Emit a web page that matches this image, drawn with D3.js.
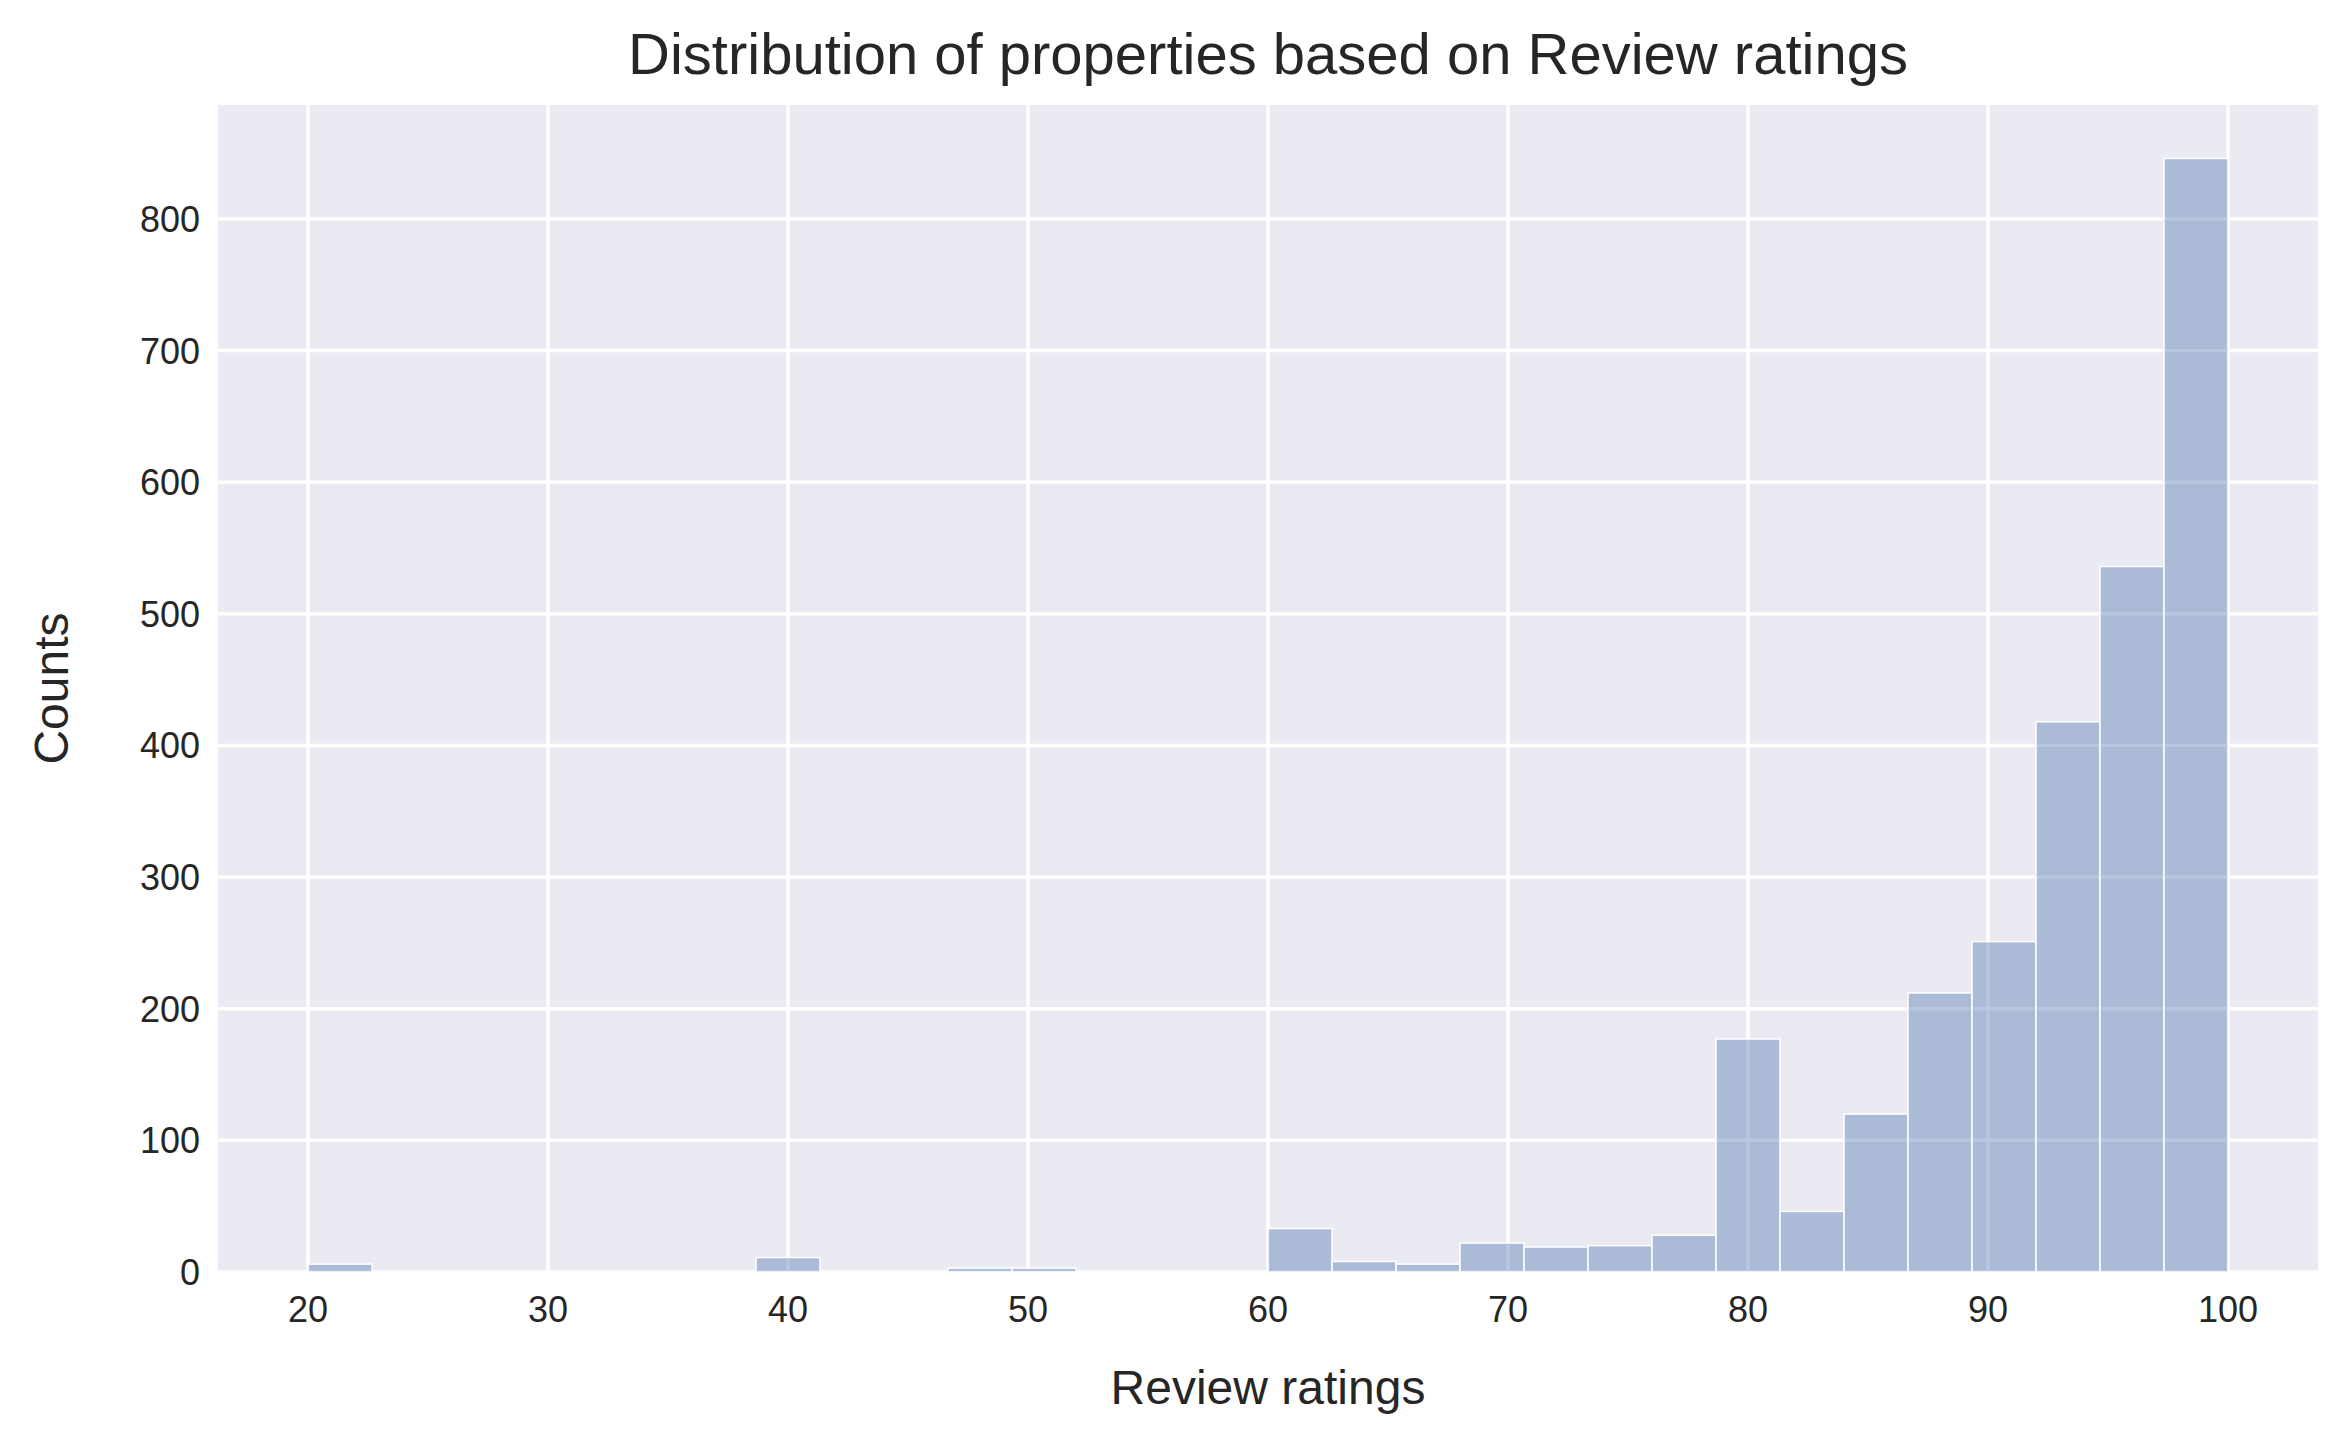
<!DOCTYPE html>
<html><head><meta charset="utf-8">
<script src="https://cdn.jsdelivr.net/npm/d3@7"></script>
<style>body{margin:0;background:#fff}</style>
</head><body>
<svg id="chart" width="2351" height="1447"></svg>
<script>
// 30 bins between 20 and 100
const binStart = 20, binEnd = 100
const counts = [6,0,0,0,0,0,0,11,0,0,3,3,0,0,0,33,8,6,22,19,20,28,177,46,120,212,251,418,536,846]
const xTicks = [20,30,40,50,60,70,80,90,100]
const yTicks = [0,100,200,300,400,500,600,700,800]

const svg = d3.select('#chart')
const font = '"Liberation Sans", Arial, sans-serif'
const m = {l:218, r:2318, t:105, b:1272}

const x = d3.scaleLinear().domain([16.25, 103.75]).range([m.l, m.r])
const y = d3.scaleLinear().domain([0, 886.6]).range([m.b, m.t])

svg.append('rect').attr('x', m.l).attr('y', m.t)
  .attr('width', m.r - m.l).attr('height', m.b - m.t).attr('fill', '#eaeaf2')

const g = svg.append('g')
g.selectAll('.vg').data(xTicks).join('line')
  .attr('x1', d => x(d)).attr('x2', d => x(d)).attr('y1', m.t).attr('y2', m.b)
  .attr('stroke', '#fff').attr('stroke-width', 3.5)
g.selectAll('.hg').data(yTicks).join('line')
  .attr('x1', m.l).attr('x2', m.r).attr('y1', d => y(d)).attr('y2', d => y(d))
  .attr('stroke', '#fff').attr('stroke-width', 3.5)

const w = (binEnd - binStart) / counts.length
svg.selectAll('.bar').data(counts).join('rect')
  .attr('x', (d, i) => x(binStart + i * w))
  .attr('width', (d, i) => x(binStart + (i + 1) * w) - x(binStart + i * w))
  .attr('y', d => y(d)).attr('height', d => y(0) - y(d))
  .attr('fill', 'rgba(76,114,176,0.4)').attr('stroke', '#fff').attr('stroke-width', 1.5)
  .attr('stroke-opacity', d => d > 0 ? 1 : 0)

svg.selectAll('.xt').data(xTicks).join('text')
  .attr('x', d => x(d)).attr('y', m.b + 50).attr('text-anchor', 'middle')
  .attr('font-family', font).attr('font-size', 36).attr('fill', '#262626').text(d => d)
svg.selectAll('.yt').data(yTicks).join('text')
  .attr('x', m.l - 18).attr('y', d => y(d) + 13).attr('text-anchor', 'end')
  .attr('font-family', font).attr('font-size', 36).attr('fill', '#262626').text(d => d)

svg.append('text').attr('x', (m.l + m.r) / 2).attr('y', 1404).attr('text-anchor', 'middle')
  .attr('font-family', font).attr('font-size', 48).attr('fill', '#262626').text('Review ratings')
svg.append('text').attr('transform', `translate(68,${(m.t + m.b) / 2}) rotate(-90)`)
  .attr('text-anchor', 'middle')
  .attr('font-family', font).attr('font-size', 48).attr('fill', '#262626').text('Counts')
svg.append('text').attr('x', (m.l + m.r) / 2).attr('y', 74).attr('text-anchor', 'middle')
  .attr('font-family', font).attr('font-size', 58).attr('fill', '#262626')
  .text('Distribution of properties based on Review ratings')
</script>
</body></html>
